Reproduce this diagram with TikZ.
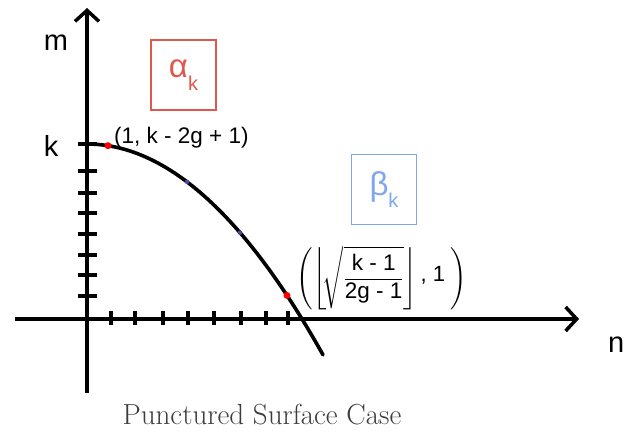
\documentclass[tikz,border=0pt]{standalone}
\usepackage{amsmath}
\usepackage{fontspec}
\setsansfont{Liberation Sans}
\usetikzlibrary{arrows.meta}
\definecolor{boxred}{HTML}{E2574C}
\definecolor{boxblue}{HTML}{7FA7EA}
\definecolor{capgray}{HTML}{3C3C3C}
\definecolor{dotblue}{HTML}{4A4AA8}
\newcommand{\labsf}[2]{{\sffamily\fontsize{#1}{#1}\selectfont #2}}
\begin{document}
\begin{tikzpicture}[x=1pt,y=-1pt,
  axisline/.style={line width=3.8pt,-{Straight Barb[length=11pt,width=24pt,line width=3.5pt]}},
  tickline/.style={line width=3.5pt},
  curveline/.style={line width=3.6pt,line cap=round},
  axlabel/.style={font=\sffamily\fontsize{29}{31}\selectfont,inner sep=0pt},
  ptlabel/.style={font=\sffamily\fontsize{22.5}{24}\selectfont,inner sep=0pt},
  regionbox/.style={draw,line width=1.8pt,minimum width=65pt,minimum height=70pt,inner sep=0pt,font=\sffamily\fontsize{33}{35}\selectfont},
  reddot/.style={circle,fill=red,minimum size=7pt,inner sep=0pt},
  bluedot/.style={circle,fill=dotblue,minimum size=4.5pt,inner sep=0pt}
]
\useasboundingbox (0,0) rectangle (626,432);
% axes
\coordinate (yb) at (87,393);
\coordinate (yt) at (87,8);
\coordinate (xl) at (15,319);
\coordinate (xr) at (579,319);
\draw[axisline] (yb) -- (yt);
\draw[axisline] (xl) -- (xr);
% y ticks
\foreach \y in {144,171,193,213,234,255,275,296}
  \draw[tickline] (78,\y) -- (97,\y);
% x ticks
\foreach \x in {111,135,163,188,214,241,266,288}
  \draw[tickline] (\x,311) -- (\x,325);
% curve  y = 175(1-(x/215)^2) about origin (87,319)
\coordinate (c0) at (87,144);
\draw[curveline] (c0) plot[domain=0:236,samples=80] ({87+\x},{319-175*(1-(\x/215)^2)});
\node[reddot] (p1) at ({87+21},{319-175*(1-(21/215)^2)}) {};
\node[bluedot] (b1) at ({87+100},{319-175*(1-(100/215)^2)}) {};
\node[bluedot] (b2) at ({87+153},{319-175*(1-(153/215)^2)}) {};
\node[reddot] (p2) at ({87+200},{319-175*(1-(200/215)^2)}) {};
% labels
\node[axlabel] (m) at (56,43) {m};
\node[axlabel] (k) at (51,146) {k};
\node[axlabel,anchor=west] (n) at (608,345) {n};
\node[ptlabel,anchor=west] (l1) at (114,138) {(1, k - 2g + 1)};
\node[inner sep=0pt] (l2) at (382,278)
  {\fontsize{20}{22}\selectfont$\Biggl(\Biggl\lfloor\!\sqrt{\dfrac{\hbox{\labsf{22.5}{k - 1}}}{\hbox{\labsf{22.5}{2g - 1}}}}\Biggr\rfloor\raisebox{3pt}{\labsf{22}{\,, 1}}\;\Biggr)$};
% boxes
\node[regionbox,draw=boxred,text=boxred] (alpha) at (183.5,75) {α\raisebox{-0.38em}{\fontsize{20}{21}\selectfont k}};
\node[regionbox,draw=boxblue,text=boxblue] (beta) at (384,189.5) {β\raisebox{-0.38em}{\fontsize{20}{21}\selectfont k}};
% caption
\node[font=\fontsize{29}{31}\selectfont\addfontfeatures{LetterSpace=4},text=capgray,inner sep=0pt] (cap) at (262,415) {Punctured Surface Case};
\end{tikzpicture}
\end{document}
